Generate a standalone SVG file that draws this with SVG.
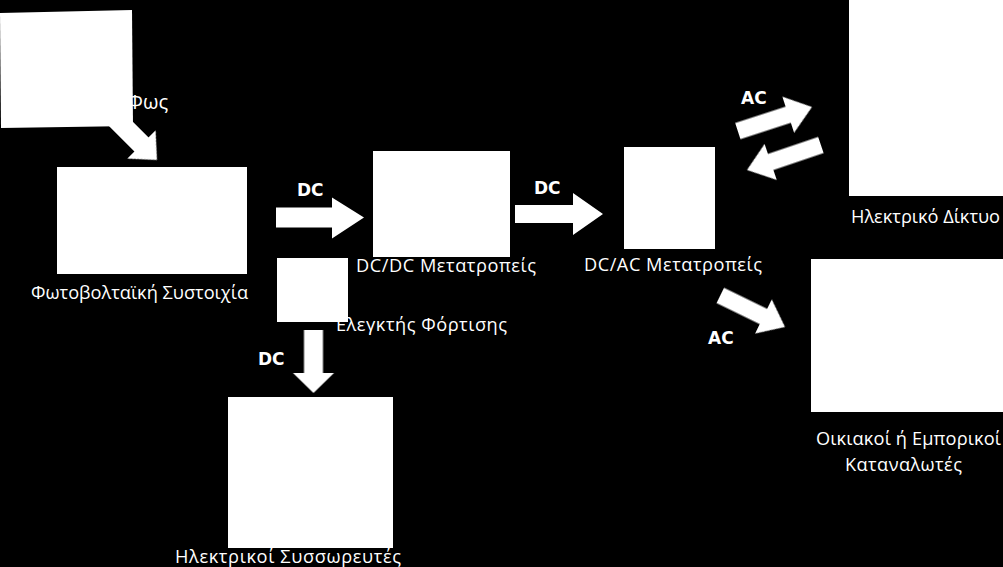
<svg xmlns="http://www.w3.org/2000/svg" width="1003" height="567" viewBox="0 0 1003 567">
<style>
.box{fill:#ffffff}
.lbl{font-family:"Open Sans","Noto Sans","DejaVu Sans",sans-serif;font-size:18.2px;fill:#ffffff}
.flow{font-family:"DejaVu Sans","Verdana",sans-serif;font-weight:bold;font-size:17px;fill:#ffffff}
.arrow{fill:#ffffff;filter:url(#soft)}
</style>
<defs>
<filter id="soft" x="-10%" y="-30%" width="120%" height="160%">
<feGaussianBlur stdDeviation="0.7"/>
</filter>
</defs>
<rect x="0" y="0" width="1003" height="567" fill="#000000"/>
<g id="connectors">
<polygon class="arrow" transform="translate(157,160) rotate(45)" points="-75,-10 -22,-10 -22,-20 0,0 -22,20 -22,10 -75,10"/>
<polygon class="arrow" transform="translate(276,217.5)" points="0,-10 56,-10 56,-20 88,0 56,21 56,10 0,10"/>
<text class="flow" x="297" y="196">DC</text>
<polygon class="arrow" transform="translate(515,214)" points="0,-9 58,-9 58,-21 88,0 58,21 58,9 0,9"/>
<text class="flow" x="534" y="194">DC</text>
<polygon class="arrow" transform="translate(313.5,330) rotate(90)" points="0,-9.5 43,-9.5 43,-20.5 63,0 43,20.5 43,9.5 0,9.5"/>
<text class="flow" x="258" y="365">DC</text>
<polygon class="arrow" transform="translate(812,107) rotate(-18)" points="-78,-8.5 -25,-8.5 -25,-19 0,0 -25,19 -25,8.5 -78,8.5"/>
<text class="flow" x="741" y="104">AC</text>
<polygon class="arrow" transform="translate(747,170) rotate(161.3)" points="-78,-8.5 -25,-8.5 -25,-19 0,0 -25,19 -25,8.5 -78,8.5"/>
<polygon class="arrow" transform="translate(785,327) rotate(26)" points="-72,-8.5 -24,-8.5 -24,-19 0,0 -24,19 -24,8.5 -72,8.5"/>
<text class="flow" x="708" y="344">AC</text>
</g>
<g id="sun">
<text class="lbl" x="127" y="109" style="font-size:20px">Φως</text>
<polygon class="box" points="0,13 132,10 133,126 1,128"/>
</g>
<g id="pv-array">
<rect class="box" x="57" y="167" width="190" height="107"/>
<text class="lbl" x="31" y="299" textLength="217" lengthAdjust="spacing">Φωτοβολταϊκή Συστοιχία</text>
</g>
<g id="dcdc">
<rect class="box" x="373" y="151" width="137" height="106"/>
<text class="lbl" x="356" y="272" textLength="180" lengthAdjust="spacing">DC/DC Μετατροπείς</text>
</g>
<g id="charge-controller">
<text class="lbl" x="336" y="331" textLength="171" lengthAdjust="spacing">Ελεγκτής Φόρτισης</text>
<rect class="box" x="277" y="258" width="71" height="64"/>
</g>
<g id="batteries">
<rect class="box" x="228" y="397" width="165" height="151"/>
<text class="lbl" x="175" y="563" textLength="226" lengthAdjust="spacing">Ηλεκτρικοί Συσσωρευτές</text>
</g>
<g id="dcac">
<rect class="box" x="624" y="147" width="91" height="102"/>
<text class="lbl" x="584" y="271" textLength="178" lengthAdjust="spacing">DC/AC Μετατροπείς</text>
</g>
<g id="grid">
<rect class="box" x="849" y="0" width="154" height="196"/>
<text class="lbl" x="851" y="223" textLength="149" lengthAdjust="spacing">Ηλεκτρικό Δίκτυο</text>
</g>
<g id="consumers">
<rect class="box" x="811" y="259" width="192" height="153"/>
<text class="lbl" x="816" y="445" textLength="185" lengthAdjust="spacing">Οικιακοί ή Εμπορικοί</text>
<text class="lbl" x="845" y="471" textLength="117" lengthAdjust="spacing">Καταναλωτές</text>
</g>
</svg>
